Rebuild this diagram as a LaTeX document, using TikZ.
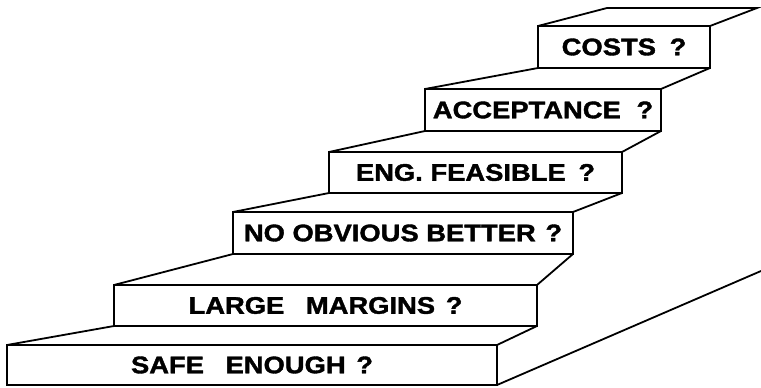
\documentclass[tikz,border=0pt]{standalone}
\usepackage{fontspec}
\newfontfamily\stepfont[FakeStretch=1.14,FakeBold=1.6]{Liberation Sans}
\begin{document}
\begin{tikzpicture}[x=1pt,y=-1pt,
  edge/.style={line width=1.8pt,line join=miter},
  riser/.style={draw,line width=1.8pt,rectangle,anchor=north west,outer sep=0pt,
    inner sep=0pt,font=\stepfont\bfseries\fontsize{24}{26}\selectfont}]
  \useasboundingbox (0,0) rectangle (761,388);

  % front faces of the steps, bottom to top
  \node[riser,minimum width=490pt,minimum height=40pt] (s1) at (7,345)
    {SAFE\hspace{14pt} ENOUGH\hspace{3pt} ?\hspace{60pt}};
  \node[riser,minimum width=423pt,minimum height=41pt] (s2) at (114,285)
    {LARGE\hspace{14pt} MARGINS\hspace{3pt} ?};
  \node[riser,minimum width=340pt,minimum height=42pt] (s3) at (233,212)
    {NO OBVIOUS BETTER\hspace{2pt} ?};
  \node[riser,minimum width=293pt,minimum height=41pt] (s4) at (329,152)
    {ENG. FEASIBLE\hspace{5pt} ?};
  \node[riser,minimum width=236pt,minimum height=42pt] (s5) at (425,89)
    {ACCEPTANCE\hspace{8pt} ?};
  \node[riser,minimum width=172pt,minimum height=42pt] (s6) at (538,26)
    {COSTS\hspace{6pt} ?};

  % back corners of the top landing and the far end of the stringer
  \coordinate (topL) at (607,8);
  \coordinate (topR) at (757,8);
  \coordinate (wallEnd) at (761,271);

  % treads: side edges running back to the next riser
  \draw[edge] (s1.north west) -- (s2.south west);
  \draw[edge] (s1.north east) -- (s2.south east);
  \draw[edge] (s2.north west) -- (s3.south west);
  \draw[edge] (s2.north east) -- (s3.south east);
  \draw[edge] (s3.north west) -- (s4.south west);
  \draw[edge] (s3.north east) -- (s4.south east);
  \draw[edge] (s4.north west) -- (s5.south west);
  \draw[edge] (s4.north east) -- (s5.south east);
  \draw[edge] (s5.north west) -- (s6.south west);
  \draw[edge] (s5.north east) -- (s6.south east);
  \draw[edge] (s6.north west) -- (topL) -- (topR) -- (s6.north east);

  % side stringer of the staircase
  \draw[edge] (s1.south east) -- (wallEnd);
\end{tikzpicture}
\end{document}
